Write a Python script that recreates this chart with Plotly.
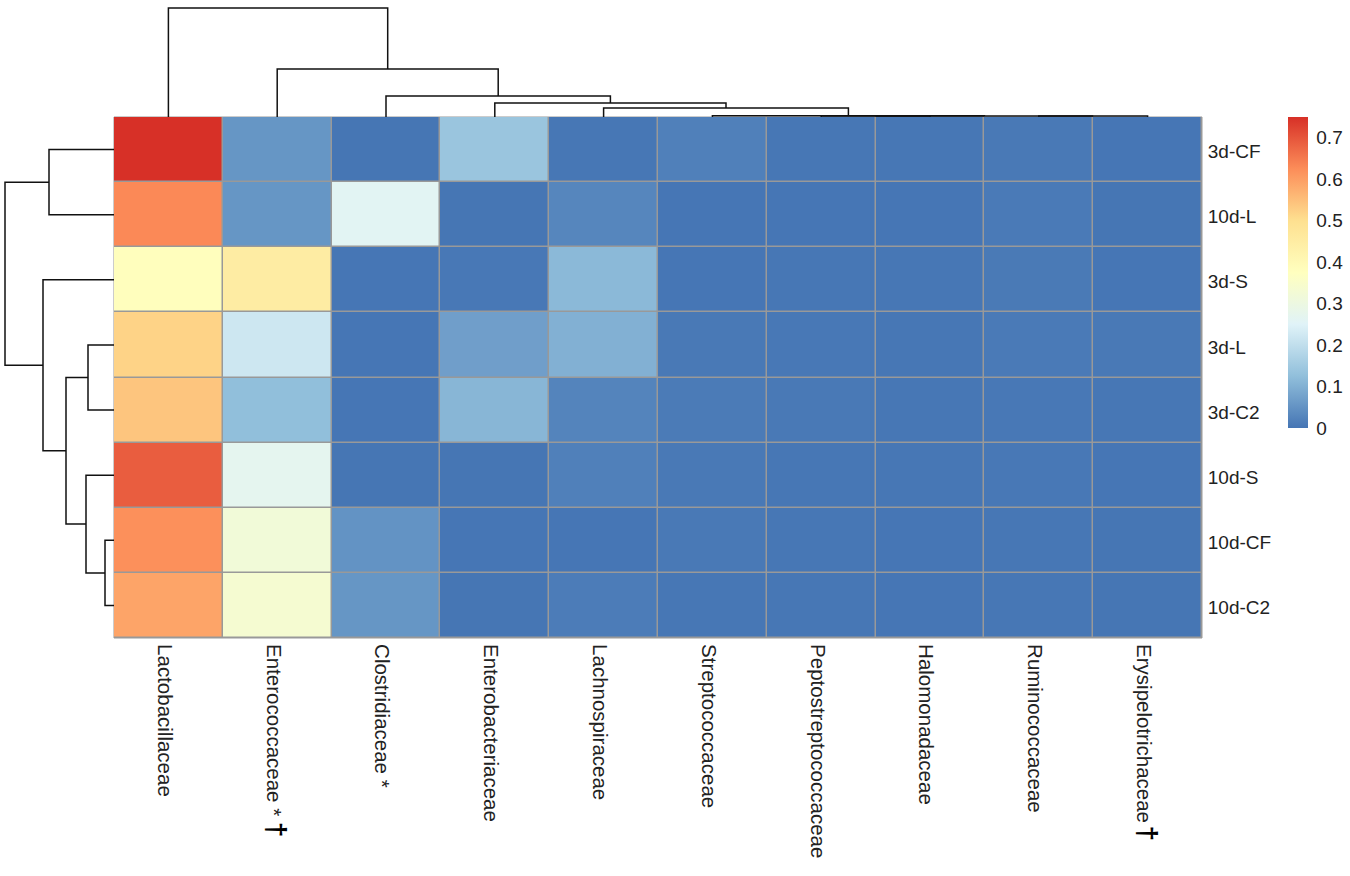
import plotly.graph_objects as go

W = 1350
H = 876

# rows and columns in dendrogram order
rows = ["3d-CF", "10d-L", "3d-S", "3d-L", "3d-C2", "10d-S", "10d-CF", "10d-C2"]
cols = ["Lactobacillaceae", "Enterococcaceae *", "Clostridiaceae *", "Enterobacteriaceae",
        "Lachnospiraceae", "Streptococcaceae", "Peptostreptococcaceae", "Halomonadaceae",
        "Ruminococcaceae", "Erysipelotrichaceae"]

r_3d_cf = [0.75, 0.055, 0.001, 0.14, 0.004, 0.018, 0.004, 0.003, 0.006, 0.002]
r_10d_l = [0.63, 0.055, 0.26, 0.001, 0.028, 0.002, 0.002, 0.002, 0.009, 0.001]
r_3d_s = [0.38, 0.45, 0.002, 0.005, 0.115, 0.002, 0.003, 0.003, 0.008, 0.002]
r_3d_l = [0.52, 0.22, 0.002, 0.07, 0.10, 0.006, 0.005, 0.003, 0.009, 0.006]
r_3d_c2 = [0.54, 0.125, 0.002, 0.11, 0.025, 0.01, 0.006, 0.004, 0.005, 0.004]
r_10d_s = [0.69, 0.27, 0.001, 0.001, 0.018, 0.006, 0.003, 0.003, 0.005, 0.002]
r_10d_cf = [0.62, 0.32, 0.05, 0.002, 0.002, 0.006, 0.003, 0.002, 0.004, 0.001]
r_10d_c2 = [0.59, 0.335, 0.055, 0.001, 0.012, 0.004, 0.003, 0.002, 0.003, 0.001]
values = [r_3d_cf, r_10d_l, r_3d_s, r_3d_l, r_3d_c2, r_10d_s, r_10d_cf, r_10d_c2]

# merges, ids past the leaf count point at an earlier merge
col_left = [6, 8, 10, 5, 4, 3, 2, 1, 0]
col_right = [7, 9, 11, 12, 13, 14, 15, 16, 17]
col_height = [0.01, 0.01, 0.01, 0.012, 0.09, 0.14, 0.21, 0.48, 1.09]

row_left = [0, 3, 6, 5, 9, 2, 8]
row_right = [1, 4, 7, 10, 11, 12, 13]
row_height = [0.65, 0.26, 0.09, 0.28, 0.48, 0.71, 1.09]

colors = ["#4575B4", "#91BFDB", "#E0F3F8", "#FFFFBF", "#FEE090", "#FC8D59", "#D73027"]
bar_ticks = [0, 0.1, 0.2, 0.3, 0.4, 0.5, 0.6, 0.7]
bar_labels = ["0", "0.1", "0.2", "0.3", "0.4", "0.5", "0.6", "0.7"]
dagger_cols = [1, 9]
dagger_px = [840, 843]

# heatmap box in pixels
LEFT, RIGHT, TOP, BOTTOM = 114, 1202, 117, 638


def dendro_lines(left, right, height, n):
    # walk the merges and give back polyline coordinates, position along the leaves and height
    pos = {i: (float(i), 0.0) for i in range(n)}
    along = []
    up = []
    for k in range(len(left)):
        p1, h1 = pos[left[k]]
        p2, h2 = pos[right[k]]
        along += [p1, p1, p2, p2, None]
        up += [h1, height[k], height[k], h2, None]
        pos[n + k] = ((p1 + p2) / 2, height[k])
    return along, up


fig = go.Figure()

fig.add_trace(go.Heatmap(
    z=values,
    x=list(range(len(cols))),
    y=list(range(len(rows))),
    zmin=0,
    zmax=0.75,
    xgap=1.5,
    ygap=1.5,
    colorscale=[[i / 6, c] for i, c in enumerate(colors)],
    colorbar=dict(
        x=1288 / W,
        xanchor="left",
        xpad=0,
        y=1 - TOP / H,
        yanchor="top",
        ypad=0,
        thickness=20,
        thicknessmode="pixels",
        len=311,
        lenmode="pixels",
        outlinewidth=0,
        tickvals=bar_ticks,
        ticktext=bar_labels,
        ticks="outside",
        ticklen=5,
        tickcolor="rgba(0,0,0,0)",
        tickfont=dict(family="Liberation Sans", size=19, color="#222222"),
    ),
))

cx, cy = dendro_lines(col_left, col_right, col_height, len(cols))
fig.add_trace(go.Scatter(x=cx, y=cy, mode="lines", xaxis="x2", yaxis="y2",
                         line=dict(color="#111111", width=1.5), cliponaxis=False,
                         showlegend=False, hoverinfo="skip"))

ry, rx = dendro_lines(row_left, row_right, row_height, len(rows))
fig.add_trace(go.Scatter(x=rx, y=ry, mode="lines", xaxis="x3", yaxis="y3",
                         line=dict(color="#111111", width=1.5), cliponaxis=False,
                         showlegend=False, hoverinfo="skip"))

fig.add_shape(type="rect", xref="x domain", yref="y domain", x0=0, x1=1, y0=0, y1=1,
              fillcolor="#999999", line=dict(color="#999999", width=1), layer="below")

for c, py in zip(dagger_cols, dagger_px):
    fig.add_annotation(x=c, xref="x", y=1 - py / H, yref="paper", text="<b>†</b>", showarrow=False,
                       textangle=90, font=dict(family="Liberation Sans", size=28, color="#000000"))

x_span = [-0.5, len(cols) - 0.5]
y_span = [len(rows) - 0.5, -0.5]
x_dom = [LEFT / W, RIGHT / W]
y_dom = [1 - BOTTOM / H, 1 - TOP / H]

fig.update_layout(
    width=W,
    height=H,
    margin=dict(l=0, r=0, t=0, b=0),
    paper_bgcolor="white",
    plot_bgcolor="white",
    showlegend=False,
    xaxis=dict(domain=x_dom, range=x_span, tickvals=list(range(len(cols))), ticktext=cols,
               tickangle=90, ticks="outside", ticklen=1, tickcolor="rgba(0,0,0,0)",
               ticklabelshift=-4, showgrid=False, zeroline=False, side="bottom",
               tickfont=dict(family="Liberation Sans", size=20.5, color="#222222")),
    yaxis=dict(domain=y_dom, range=y_span, tickvals=list(range(len(rows))), ticktext=rows,
               ticks="outside", ticklen=1, tickcolor="rgba(0,0,0,0)", ticklabelshift=-2,
               side="right", showgrid=False, zeroline=False,
               tickfont=dict(family="Liberation Sans", size=19, color="#222222")),
    xaxis2=dict(domain=x_dom, range=x_span, visible=False, anchor="y2"),
    yaxis2=dict(domain=[1 - TOP / H, 1], range=[0, 1.17], visible=False, anchor="x2"),
    xaxis3=dict(domain=[0, LEFT / W], range=[1.14, 0], visible=False, anchor="y3"),
    yaxis3=dict(domain=y_dom, range=y_span, visible=False, anchor="x3"),
)

# default body margin would push the whole figure 8px in
fig.write_html("out.html", config={"displayModeBar": False},
               post_script="document.body.style.margin = '0';")
